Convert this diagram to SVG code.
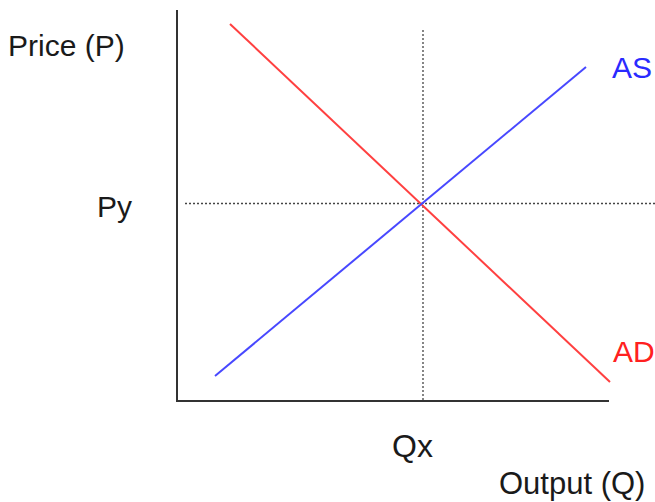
<svg xmlns="http://www.w3.org/2000/svg" width="655" height="502" viewBox="0 0 655 502">
<style>
.axis{stroke:#333;stroke-width:2;fill:none}
.guide{stroke:#444;stroke-width:1.3;stroke-dasharray:2 2;fill:none}
.ad{stroke:#ff4040;stroke-width:2;fill:none}
.as{stroke:#4848ff;stroke-width:2;fill:none}
text{font-family:"Liberation Sans",Arial,sans-serif;font-size:30px;fill:#1a1a1a}
</style>
<rect width="655" height="502" fill="#fff"/>
<g id="connectors">
<line class="guide" x1="185" y1="203.5" x2="655" y2="203.5"/>
<line class="guide" x1="423" y1="30" x2="423" y2="401"/>
<line class="ad" x1="230" y1="24" x2="610" y2="382"/>
<line class="as" x1="215" y1="376" x2="586" y2="67"/>
</g>
<g id="axes">
<polyline class="axis" points="177,10 177,401 609,401"/>
</g>
<g id="label-price"><text x="8" y="56" font-size="30.5">Price (P)</text></g>
<g id="label-py"><text x="97" y="217">Py</text></g>
<g id="label-qx"><text x="392" y="457" style="font-size:32px">Qx</text></g>
<g id="label-output"><text x="499" y="494" style="font-size:31px">Output (Q)</text></g>
<g id="label-as"><text x="612" y="78" style="fill:#2a2aff">AS</text></g>
<g id="label-ad"><text x="613" y="362" style="fill:#ff2020">AD</text></g>
</svg>
